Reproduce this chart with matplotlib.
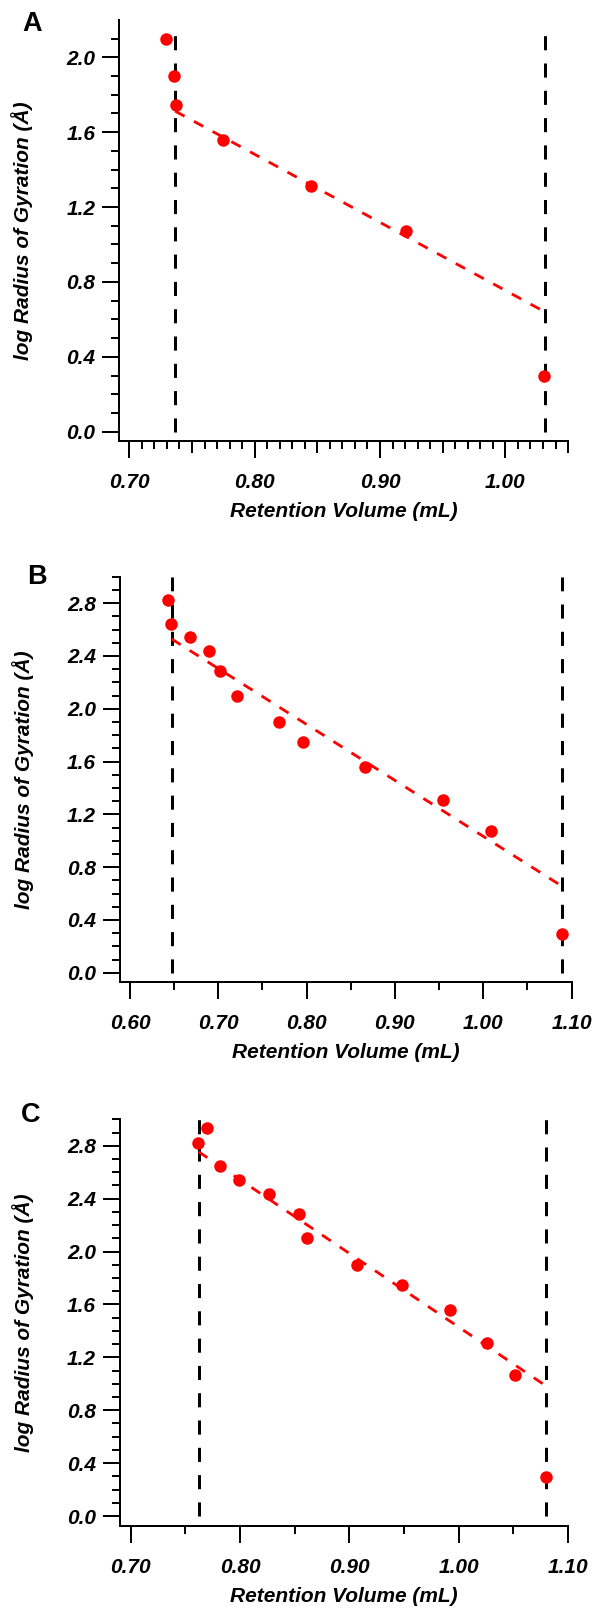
import numpy as np
import matplotlib
matplotlib.use("Agg")
import matplotlib.pyplot as plt
from matplotlib.ticker import MultipleLocator, FormatStrFormatter

plt.rcParams['font.family'] = ['Liberation Sans', 'DejaVu Sans']
plt.rcParams['font.weight'] = 'bold'
plt.rcParams['font.style'] = 'italic'

# log Rg of the standards (shared across panels)
# panel A
a_vol = [0.7295, 0.736, 0.737, 0.7748, 0.8453, 0.9204, 1.0307]
a_logrg = [2.10, 1.90, 1.745, 1.56, 1.31, 1.07, 0.295]
a_fit_x = [0.7366, 1.0301]
a_fit_y = [1.712, 0.645]
a_bounds = [0.7364, 1.0316]
a_bound_top = 2.13

# panel B
b_vol = [0.643, 0.6465, 0.668, 0.690, 0.7017, 0.7216, 0.7693, 0.7961,
         0.8662, 0.955, 1.0087, 1.0896]
b_logrg = [2.82, 2.645, 2.54, 2.435, 2.285, 2.10, 1.90, 1.745, 1.56,
           1.31, 1.07, 0.295]
b_fit_x = [0.6472, 1.0879]
b_fit_y = [2.528, 0.661]
b_bounds = [0.6472, 1.0896]
b_bound_top = 3.0

# panel C
c_vol = [0.7616, 0.7696, 0.7821, 0.7994, 0.8268, 0.8535, 0.8614, 0.9068,
         0.9484, 0.9919, 1.0259, 1.0515, 1.0799]
c_logrg = [2.82, 2.935, 2.645, 2.54, 2.435, 2.285, 2.10, 1.90, 1.745,
           1.56, 1.31, 1.07, 0.295]
c_fit_x = [0.762, 1.0771]
c_fit_y = [2.755, 0.999]
c_bounds = [0.762, 1.0799]
c_bound_top = 3.0

W, H = 595, 1609
fig = plt.figure(figsize=(W / 100, H / 100), dpi=100)

PX = 72 / 100  # points per pixel


def px_axes(left, right, top, bottom):
    return fig.add_axes([left / W, (H - bottom) / H, (right - left) / W, (bottom - top) / H])


def style_panel(ax, xlim, ylim, ymax_tick, x_minor, medium=None):
    ax.set_xlim(*xlim)
    ax.set_ylim(*ylim)
    for s in ['top', 'right']:
        ax.spines[s].set_visible(False)
    for s in ['left', 'bottom']:
        ax.spines[s].set_linewidth(2 * PX)
    ax.set_yticks(np.arange(0, ymax_tick + 0.01, 0.4))
    ax.yaxis.set_minor_locator(MultipleLocator(0.1))
    ax.xaxis.set_major_locator(MultipleLocator(0.1))
    ax.xaxis.set_minor_locator(MultipleLocator(x_minor))
    ax.yaxis.set_major_formatter(FormatStrFormatter('%.1f'))
    ax.xaxis.set_major_formatter(FormatStrFormatter('%.2f'))
    ax.tick_params(which='major', direction='out', length=17 * PX, width=2 * PX,
                   labelsize=15, color='black')
    ax.tick_params(which='minor', direction='out', length=8 * PX, width=2 * PX)
    ax.tick_params(axis='y', which='major', pad=7 * PX)
    ax.tick_params(axis='x', which='major', pad=15 * PX)
    for lab in ax.get_xticklabels() + ax.get_yticklabels():
        lab.set_fontweight('bold')
        lab.set_fontstyle('italic')
    if medium is not None:
        # Igor-style intermediate ticks at the half-decades
        sec = ax.secondary_xaxis('bottom')
        sec.set_xticks(medium)
        sec.tick_params(which='major', direction='out', length=12 * PX,
                        width=2 * PX, labelbottom=False)
        sec.xaxis.set_minor_locator(plt.NullLocator())
        sec.spines['bottom'].set_visible(False)


def draw_panel(ax, vol, logrg, fit_x, fit_y, bounds, top):
    ax.vlines(bounds, 0, top, colors='black', linewidth=3 * PX,
              linestyles=(0, (4.7, 4.4)), zorder=2)
    ax.plot(fit_x, fit_y, color='red', linewidth=2.8 * PX,
            dashes=(3.8, 3.8), zorder=3)
    ax.plot(vol, logrg, 'o', color='red', markersize=12.5 * PX,
            markeredgewidth=0, zorder=4)


def set_labels(ax, left, right, top, bottom):
    ax.set_xlabel('Retention Volume (mL)', fontsize=15, fontweight='bold',
                  fontstyle='italic')
    ax.set_ylabel('log Radius of Gyration (Å)', fontsize=15,
                  fontweight='bold', fontstyle='italic')
    w, h = right - left, bottom - top
    ax.xaxis.set_label_coords(0.5, -61 / h)
    ax.yaxis.set_label_coords(-(119.3 - 33) / w, 0.5)


# panel A
geoA = (119.3, 568.3, 20, 441)
axA = px_axes(*geoA)
style_panel(axA, (0.692, 1.0502), (-0.0497, 2.199), 2.0, 0.01,
            medium=[0.75, 0.85, 0.95, 1.05])
draw_panel(axA, a_vol, a_logrg, a_fit_x, a_fit_y, a_bounds, a_bound_top)
set_labels(axA, *geoA)

# panel B
geoB = (120, 571.7, 576.7, 981.7)
axB = px_axes(*geoB)
style_panel(axB, (0.5887, 1.1002), (-0.068, 3.0), 2.8, 0.05)
draw_panel(axB, b_vol, b_logrg, b_fit_x, b_fit_y, b_bounds, b_bound_top)
set_labels(axB, *geoB)

# panel C
geoC = (120, 568.3, 1119.3, 1525.7)
axC = px_axes(*geoC)
style_panel(axC, (0.6902, 1.1002), (-0.073, 3.0), 2.8, 0.05)
draw_panel(axC, c_vol, c_logrg, c_fit_x, c_fit_y, c_bounds, c_bound_top)
set_labels(axC, *geoC)

for letter, (x, y) in zip(['A', 'B', 'C'], [(32, 24), (37, 577), (31, 1115)]):
    fig.text(x / W, 1 - y / H, letter, fontsize=19.5, fontweight='bold',
             fontstyle='normal', ha='center', va='center')

fig.savefig('out.png', dpi=100)
